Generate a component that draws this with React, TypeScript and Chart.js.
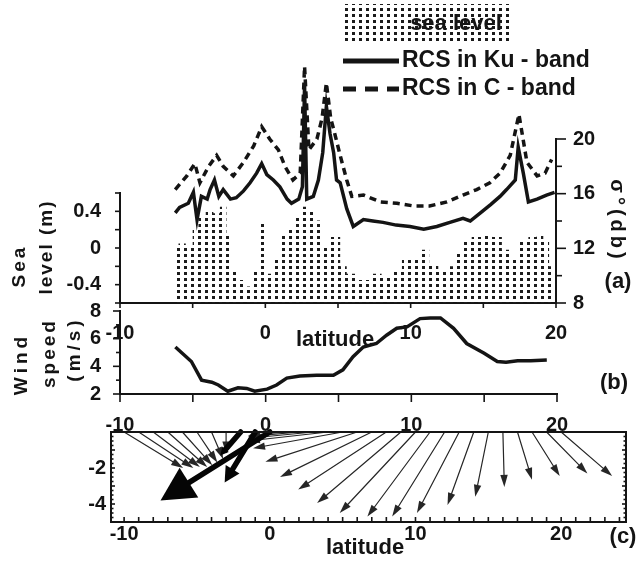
import React, { useEffect, useRef } from 'react';
import { Chart, registerables } from 'chart.js';

Chart.register(...registerables);

// ---------- data ----------
// (a) sea level anomaly along the track (m)
const seaLat = [-6.2, -5.75, -5.2, -4.8, -4.4, -3.8, -3.35, -2.9, -2.45, -2.0, -1.5, -1.05, -0.6, -0.15, 0.3, 0.8, 1.25, 1.7, 2.15, 2.6, 3.1, 3.55, 4.0, 4.55, 4.95, 5.35, 5.85, 6.5, 7.0, 7.65, 8.35, 9.05, 9.75, 10.4, 11.0, 11.55, 12.25, 12.95, 13.4, 13.85, 14.55, 15.25, 15.95, 16.6, 17.3, 17.75, 18.45, 18.9, 19.35, 19.7];
const seaLevel = [0.0, 0.05, 0.0, 0.23, 0.34, 0.41, 0.38, 0.45, 0.16, -0.24, -0.35, -0.42, -0.24, 0.27, -0.28, -0.1, 0.16, 0.23, 0.34, 0.45, 0.41, 0.3, 0.01, 0.12, 0.12, -0.2, -0.28, -0.35, -0.35, -0.28, -0.3, -0.24, -0.13, -0.1, -0.02, -0.17, -0.24, -0.2, -0.06, 0.09, 0.12, 0.16, 0.12, -0.02, -0.13, 0.09, 0.12, 0.16, 0.09, -0.2];

// (a) radar cross section, Ku band (dB)
const kuLat = [-6.2, -5.9, -5.3, -4.95, -4.7, -4.4, -4.0, -3.8, -3.5, -3.2, -2.9, -2.4, -2.0, -1.5, -1.05, -0.6, -0.25, 0.1, 0.55, 1.0, 1.5, 1.8, 2.3, 2.55, 2.7, 2.85, 3.3, 3.65, 3.95, 4.2, 4.45, 4.7, 4.9, 5.15, 5.6, 6.05, 6.75, 7.4, 8.1, 9.0, 9.95, 10.9, 11.8, 12.7, 13.6, 14.1, 14.8, 15.5, 16.15, 16.6, 17.2, 17.4, 17.75, 18.1, 18.7, 19.35, 19.9];
const kuRcs = [14.6, 15.0, 15.3, 16.1, 14.1, 15.8, 15.6, 16.3, 17.0, 15.8, 16.3, 15.6, 15.7, 16.2, 16.8, 17.5, 18.2, 17.4, 17.0, 16.5, 15.6, 15.3, 15.6, 16.5, 23.9, 15.6, 15.8, 17.0, 19.0, 22.4, 20.4, 19.0, 17.0, 16.8, 14.9, 13.6, 14.1, 14.0, 13.9, 13.7, 13.6, 13.4, 13.6, 13.9, 14.2, 14.0, 14.6, 15.2, 15.8, 16.3, 17.0, 19.4, 17.5, 15.4, 15.6, 15.9, 16.1];

// (a) radar cross section, C band (dB)
const cLat = [-6.2, -5.4, -4.85, -4.5, -3.9, -3.35, -2.9, -2.2, -1.5, -0.8, -0.25, 0.3, 0.9, 1.35, 1.9, 2.4, 2.7, 3.0, 3.55, 3.9, 4.2, 4.5, 4.75, 5.15, 5.6, 5.95, 6.75, 7.9, 9.05, 10.2, 11.3, 12.5, 13.6, 14.55, 15.45, 16.15, 16.85, 17.45, 18.0, 18.7, 19.25, 19.7];
const cRcs = [16.3, 17.3, 18.2, 16.8, 18.0, 18.8, 18.0, 17.3, 18.3, 19.5, 20.9, 20.0, 19.2, 18.0, 17.0, 17.5, 25.3, 19.2, 20.0, 21.5, 24.1, 21.5, 20.5, 18.8, 17.0, 15.8, 15.9, 15.4, 15.3, 15.1, 15.1, 15.4, 15.9, 16.3, 16.8, 17.5, 18.8, 21.8, 18.3, 17.3, 17.5, 18.5];

// (b) wind speed (m/s)
const windLat = [-6.2, -5.1, -4.4, -3.7, -3.25, -2.6, -1.9, -1.3, -0.75, 0.1, 0.75, 1.45, 2.35, 3.5, 4.65, 5.3, 6.0, 6.7, 7.6, 8.3, 9.0, 9.7, 10.6, 11.3, 12.0, 12.9, 13.8, 15.0, 15.9, 16.5, 17.3, 18.2, 19.3];
const windSpeed = [5.4, 4.35, 3.0, 2.85, 2.65, 2.2, 2.45, 2.4, 2.2, 2.35, 2.65, 3.15, 3.3, 3.35, 3.35, 3.75, 4.7, 5.4, 5.65, 6.25, 6.75, 6.85, 7.45, 7.5, 7.5, 6.75, 5.65, 4.95, 4.35, 4.3, 4.4, 4.4, 4.45];

// (c) wind vectors: origin latitude and components (axis units)
const vecLat = [-10, -9, -8, -7, -6, -5, -4, -3, 1, 2, 3, 4, 5, 6, 7, 8, 9, 10, 11, 12, 13, 14, 15, 16, 17, 18, 19, 20];
const vecU = [4.05, 3.75, 3.2, 2.7, 2.05, 1.4, 0.8, 0.0, -2.5, -3.5, -4.5, -5.5, -6.15, -6.3, -6.3, -6.05, -5.75, -5.2, -4.3, -3.6, -2.9, -1.8, -0.9, 0.1, 1.0, 1.9, 2.8, 3.5];
const vecV = [-2.0, -2.0, -1.95, -1.95, -1.85, -1.7, -1.5, -1.2, -0.2, -0.25, -0.35, -0.5, -0.9, -1.65, -2.5, -3.2, -3.95, -4.5, -4.7, -4.7, -4.5, -4.05, -3.6, -3.05, -2.65, -2.45, -2.3, -2.45];
// strong equatorial vectors
const coreLat = [-2, -1, 0];
const coreU = [-1.4, -2.1, -7.5];
const coreV = [-1.3, -2.8, -3.8];

// tick labels
const latTickLabels = [-10, 0, 10, 20];
const seaTickLabels = [-0.4, 0, 0.4];
const rcsTickLabels = [8, 12, 16, 20];
const windTickLabels = [2, 4, 6, 8];
const depthTickLabels = [-2, -4];

// ---------- layout ----------
const W = 638;
const H = 563;
const FONT = "'Liberation Sans', Arial, Helvetica, sans-serif";
const INK = '#141414';

type Box = { l: number; t: number; r: number; b: number };
type Sides = { left?: boolean; right?: boolean; bottom?: boolean };
const SEA_BOX: Box = { l: 120, t: 193, r: 556, b: 303 };
const RCS_BOX: Box = { l: 120, t: 139, r: 556, b: 303 };
const WIND_BOX: Box = { l: 120, t: 311, r: 557, b: 394 };
const VEC_BOX: Box = { l: 111, t: 432, r: 626, b: 522 };

const tickFont = { family: FONT, size: 20, weight: 'bold' as const };

// sides that carry an axis get no padding: the axis box itself fills the margin
function frameOptions(box: Box, sides: Sides) {
  return {
    responsive: false,
    maintainAspectRatio: false,
    animation: false as const,
    devicePixelRatio: 1,
    events: [] as any[],
    layout: {
      padding: {
        left: sides.left ? 0 : box.l,
        top: box.t,
        right: sides.right ? 0 : W - box.r,
        bottom: sides.bottom ? 0 : H - box.b,
      },
    },
  };
}

const fixedThickness = (size: number) => (scale: any) => {
  if (scale.isHorizontal()) scale.height = size;
  else scale.width = size;
};

const labelsFrom = (list: number[]) => (value: number | string) => {
  const n = Number(value);
  const hit = list.find((t) => Math.abs(t - n) < 1e-6);
  return hit === undefined ? '' : String(hit);
};

function axis(size: number, extra: any) {
  return {
    type: 'linear',
    afterFit: fixedThickness(size),
    grid: { display: false, drawTicks: false },
    border: { display: true, color: INK, width: 2 },
    ...extra,
    ticks: { autoSkip: false, maxRotation: 0, color: INK, font: tickFont, includeBounds: false, ...(extra.ticks || {}) },
  };
}

const quietPlugins = { legend: { display: false }, tooltip: { enabled: false } };

// ---------- plugins ----------
const tickMarks = {
  id: 'tickMarks',
  afterDraw(chart: any, _args: any, opts: any) {
    const { ctx, chartArea: ca } = chart;
    ctx.save();
    ctx.strokeStyle = INK;
    ctx.lineWidth = 1.6;
    for (const m of opts.marks || []) {
      const s = chart.scales[m.scale];
      const n = Math.round((m.to - m.from) / m.step);
      for (let i = 0; i <= n; i++) {
        const v = m.from + i * m.step;
        const major = m.major ? Math.abs(v / m.major - Math.round(v / m.major)) < 1e-6 : true;
        const len = major ? m.len : m.minorLen;
        const p = s.getPixelForValue(v);
        ctx.beginPath();
        if (m.edge === 'bottom') { ctx.moveTo(p, ca.bottom); ctx.lineTo(p, ca.bottom + len); }
        else if (m.edge === 'top') { ctx.moveTo(p, ca.top); ctx.lineTo(p, ca.top - len); }
        else if (m.edge === 'left') { ctx.moveTo(ca.left, p); ctx.lineTo(ca.left - len, p); }
        else { ctx.moveTo(ca.right, p); ctx.lineTo(ca.right + len, p); }
        ctx.stroke();
      }
    }
    ctx.restore();
  },
};

const notes = {
  id: 'notes',
  afterDraw(chart: any, _args: any, opts: any) {
    const ctx = chart.ctx;
    for (const it of opts.items || []) {
      ctx.save();
      ctx.font = `bold ${it.size}px ${FONT}`;
      ctx.fillStyle = INK;
      ctx.letterSpacing = `${it.spacing || 0}px`;
      ctx.textAlign = it.align || 'center';
      ctx.textBaseline = 'middle';
      ctx.translate(it.x, it.y);
      if (it.rotate) ctx.rotate((it.rotate * Math.PI) / 180);
      ctx.fillText(it.text, 0, 0);
      ctx.restore();
    }
  },
};

const bandLegend = {
  id: 'bandLegend',
  afterDraw(chart: any, _args: any, opts: any) {
    const ctx = chart.ctx;
    ctx.save();
    // stippled key for the sea level area, with its name printed into the dots
    ctx.fillStyle = opts.stipple;
    ctx.fillRect(345, 4, 167, 39);
    ctx.fillStyle = INK;
    ctx.font = `bold 22px ${FONT}`;
    ctx.textAlign = 'center';
    ctx.textBaseline = 'middle';
    ctx.fillText(opts.seaLabel, 456, 24);
    ctx.globalAlpha = 0.45;
    ctx.fillStyle = opts.stipple;
    ctx.fillRect(345, 4, 167, 39);
    ctx.globalAlpha = 1;
    ctx.fillStyle = INK;
    chart.data.datasets.forEach((ds: any, i: number) => {
      const y = 61 + i * 28;
      ctx.strokeStyle = ds.borderColor;
      ctx.lineWidth = ds.borderWidth + 1.5;
      ctx.setLineDash(ds.borderDash ? [13, 9] : []);
      ctx.beginPath();
      ctx.moveTo(343, y);
      ctx.lineTo(399, y);
      ctx.stroke();
      ctx.setLineDash([]);
      ctx.textAlign = 'left';
      ctx.font = `bold 23px ${FONT}`;
      ctx.fillText(ds.label, 402, y);
    });
    ctx.restore();
  },
};

const quiver = {
  id: 'quiver',
  afterDatasetsDraw(chart: any) {
    const { ctx } = chart;
    const xs = chart.scales.x;
    const ys = chart.scales.y;
    chart.data.datasets.forEach((ds: any) => {
      const st = ds.arrow;
      if (!st) return;
      ctx.save();
      ctx.strokeStyle = st.color;
      ctx.fillStyle = st.color;
      ctx.lineWidth = st.width;
      ctx.lineCap = 'round';
      for (const p of ds.data) {
        const x0 = xs.getPixelForValue(p.x);
        const y0 = ys.getPixelForValue(p.y);
        const x1 = xs.getPixelForValue(p.x + p.u);
        const y1 = ys.getPixelForValue(p.y + p.v);
        const dx = x1 - x0;
        const dy = y1 - y0;
        const len = Math.hypot(dx, dy);
        if (len < 1) continue;
        const ux = dx / len;
        const uy = dy / len;
        const hl = st.headScale ? len * st.headScale : st.head;
        const hw = hl * st.headRatio;
        const bx = x1 - ux * hl;
        const by = y1 - uy * hl;
        ctx.beginPath();
        ctx.moveTo(x0, y0);
        ctx.lineTo(bx + ux, by + uy);
        ctx.stroke();
        ctx.beginPath();
        ctx.moveTo(x1, y1);
        ctx.lineTo(bx - (uy * hw) / 2, by + (ux * hw) / 2);
        ctx.lineTo(bx + (uy * hw) / 2, by - (ux * hw) / 2);
        ctx.closePath();
        ctx.fill();
      }
      ctx.restore();
    });
  },
};

const boxFrame = {
  id: 'boxFrame',
  afterDraw(chart: any) {
    const { ctx, chartArea: ca } = chart;
    ctx.save();
    ctx.strokeStyle = INK;
    ctx.lineWidth = 2;
    ctx.strokeRect(ca.left, ca.top, ca.right - ca.left, ca.bottom - ca.top);
    ctx.restore();
  },
};

function makeStipple(): CanvasPattern | string {
  const c = document.createElement('canvas');
  c.width = 7;
  c.height = 6;
  const g = c.getContext('2d');
  if (!g) return '#777';
  g.fillStyle = '#1c1c1c';
  g.fillRect(2, 2, 3, 3);
  return g.createPattern(c, 'repeat') || '#777';
}

const points = (xs: number[], ys: number[]) => xs.map((x, i) => ({ x, y: ys[i] }));

// ---------- chart configs ----------
function seaConfig(stipple: CanvasPattern | string): any {
  return {
    type: 'line',
    data: {
      datasets: [{
        label: 'sea level',
        data: points(seaLat, seaLevel),
        stepped: 'middle',
        fill: 'start',
        backgroundColor: stipple,
        borderColor: 'rgba(0,0,0,0)',
        borderWidth: 0,
        pointRadius: 0,
      }],
    },
    options: {
      ...frameOptions(SEA_BOX, { left: true, bottom: true }),
      scales: {
        x: axis(H - SEA_BOX.b, { min: -10, max: 20, ticks: { stepSize: 5, padding: 18, callback: labelsFrom(latTickLabels) } }),
        y: axis(SEA_BOX.l, { min: -0.6, max: 0.6, ticks: { stepSize: 0.2, padding: 19, callback: labelsFrom(seaTickLabels) } }),
      },
      plugins: {
        ...quietPlugins,
        tickMarks: {
          marks: [
            { scale: 'x', edge: 'bottom', from: -10, to: 20, step: 5, len: 5 },
            { scale: 'y', edge: 'left', from: -0.6, to: 0.6, step: 0.2, len: 5 },
          ],
        },
        notes: {
          items: [
            { text: 'Sea', x: 20, y: 266, size: 19, rotate: -90, spacing: 3 },
            { text: 'level (m)', x: 47, y: 247, size: 19, rotate: -90, spacing: 2 },
            { text: 'latitude', x: 335, y: 340, size: 22 },
          ],
        },
      },
    },
    plugins: [tickMarks, notes],
  };
}

function rcsConfig(stipple: CanvasPattern | string): any {
  return {
    type: 'line',
    data: {
      datasets: [
        { label: 'RCS in Ku - band', data: points(kuLat, kuRcs), borderColor: INK, borderWidth: 3.5, pointRadius: 0, clip: false },
        { label: 'RCS in C - band', data: points(cLat, cRcs), borderColor: INK, borderWidth: 3.5, borderDash: [7, 5], pointRadius: 0, clip: false },
      ],
    },
    options: {
      ...frameOptions(RCS_BOX, { right: true }),
      scales: {
        x: { type: 'linear', min: -10, max: 20, display: false },
        y: axis(W - RCS_BOX.r, { position: 'right', min: 8, max: 20, ticks: { stepSize: 2, padding: 17, callback: labelsFrom(rcsTickLabels) } }),
      },
      plugins: {
        ...quietPlugins,
        tickMarks: {
          marks: [{ scale: 'y', edge: 'right', from: 8, to: 20, step: 2, major: 4, len: 10, minorLen: 6 }],
        },
        notes: {
          items: [
            { text: 'σ°(db)', x: 617, y: 221, size: 20, rotate: 90, spacing: 4 },
            { text: '(a)', x: 618, y: 282, size: 22 },
          ],
        },
        bandLegend: { stipple, seaLabel: 'sea level' },
      },
    },
    plugins: [tickMarks, notes, bandLegend],
  };
}

function windConfig(): any {
  return {
    type: 'line',
    data: {
      datasets: [{ label: 'Wind speed', data: points(windLat, windSpeed), borderColor: INK, borderWidth: 3.5, pointRadius: 0 }],
    },
    options: {
      ...frameOptions(WIND_BOX, { left: true, bottom: true }),
      scales: {
        x: axis(H - WIND_BOX.b, { min: -10, max: 20, ticks: { stepSize: 5, padding: 19, callback: labelsFrom(latTickLabels) } }),
        y: axis(WIND_BOX.l, { min: 2, max: 8, ticks: { stepSize: 1, padding: 19, callback: labelsFrom(windTickLabels) } }),
      },
      plugins: {
        ...quietPlugins,
        tickMarks: {
          marks: [
            { scale: 'x', edge: 'bottom', from: -10, to: 20, step: 5, len: 8 },
            { scale: 'y', edge: 'left', from: 2, to: 8, step: 1, major: 2, len: 7, minorLen: 4 },
          ],
        },
        notes: {
          items: [
            { text: 'Wind', x: 22, y: 364, size: 19, rotate: -90, spacing: 4 },
            { text: 'speed', x: 50, y: 353, size: 19, rotate: -90, spacing: 3 },
            { text: '(m/s)', x: 75, y: 349, size: 19, rotate: -90, spacing: 4 },
            { text: '(b)', x: 614, y: 383, size: 22 },
          ],
        },
      },
    },
    plugins: [tickMarks, notes],
  };
}

function vecConfig(): any {
  const vec = vecLat.map((x, i) => ({ x, y: 0, u: vecU[i], v: vecV[i] }));
  const core = coreLat.map((x, i) => ({ x, y: 0, u: coreU[i], v: coreV[i] }));
  return {
    type: 'scatter',
    data: {
      datasets: [
        { label: 'wind vector', data: vec, pointRadius: 0, arrow: { color: '#262626', width: 1.2, head: 12, headRatio: 0.62 } },
        { label: 'equatorial wind vector', data: core, pointRadius: 0, arrow: { color: '#050505', width: 5.5, headScale: 0.26, headRatio: 1.05 } },
      ],
    },
    options: {
      ...frameOptions(VEC_BOX, { left: true, bottom: true }),
      scales: {
        x: axis(H - VEC_BOX.b, { min: -10.9, max: 24.45, border: { display: false }, ticks: { stepSize: 10, padding: 0, callback: labelsFrom(latTickLabels) } }),
        y: axis(VEC_BOX.l, { min: -5, max: 0, border: { display: false }, ticks: { stepSize: 1, padding: 5, callback: labelsFrom(depthTickLabels) } }),
      },
      plugins: {
        ...quietPlugins,
        tickMarks: {
          marks: [
            { scale: 'x', edge: 'bottom', from: -10, to: 24, step: 1, len: -5 },
            { scale: 'y', edge: 'left', from: -5, to: 0, step: 0.25, major: 1, len: -4, minorLen: -2.5 },
            { scale: 'y', edge: 'right', from: -5, to: 0, step: 0.25, major: 1, len: -4, minorLen: -2.5 },
          ],
        },
        notes: {
          items: [
            { text: 'latitude', x: 365, y: 548, size: 22 },
            { text: '(c)', x: 623, y: 537, size: 22 },
          ],
        },
      },
    },
    plugins: [boxFrame, quiver, tickMarks, notes],
  };
}

export default function App() {
  const seaRef = useRef<HTMLCanvasElement>(null);
  const rcsRef = useRef<HTMLCanvasElement>(null);
  const windRef = useRef<HTMLCanvasElement>(null);
  const vecRef = useRef<HTMLCanvasElement>(null);

  useEffect(() => {
    document.body.style.margin = '0';
    const stipple = makeStipple();
    const charts = [
      new Chart(seaRef.current as HTMLCanvasElement, seaConfig(stipple)),
      new Chart(rcsRef.current as HTMLCanvasElement, rcsConfig(stipple)),
      new Chart(windRef.current as HTMLCanvasElement, windConfig()),
      new Chart(vecRef.current as HTMLCanvasElement, vecConfig()),
    ];
    return () => charts.forEach((c) => c.destroy());
  }, []);

  const layer: React.CSSProperties = { position: 'absolute', left: 0, top: 0, width: W, height: H };
  return (
    <div style={{ position: 'absolute', left: 0, top: 0, width: W, height: H, background: '#fff' }}>
      <canvas ref={seaRef} width={W} height={H} style={layer} />
      <canvas ref={rcsRef} width={W} height={H} style={layer} />
      <canvas ref={windRef} width={W} height={H} style={layer} />
      <canvas ref={vecRef} width={W} height={H} style={layer} />
    </div>
  );
}
